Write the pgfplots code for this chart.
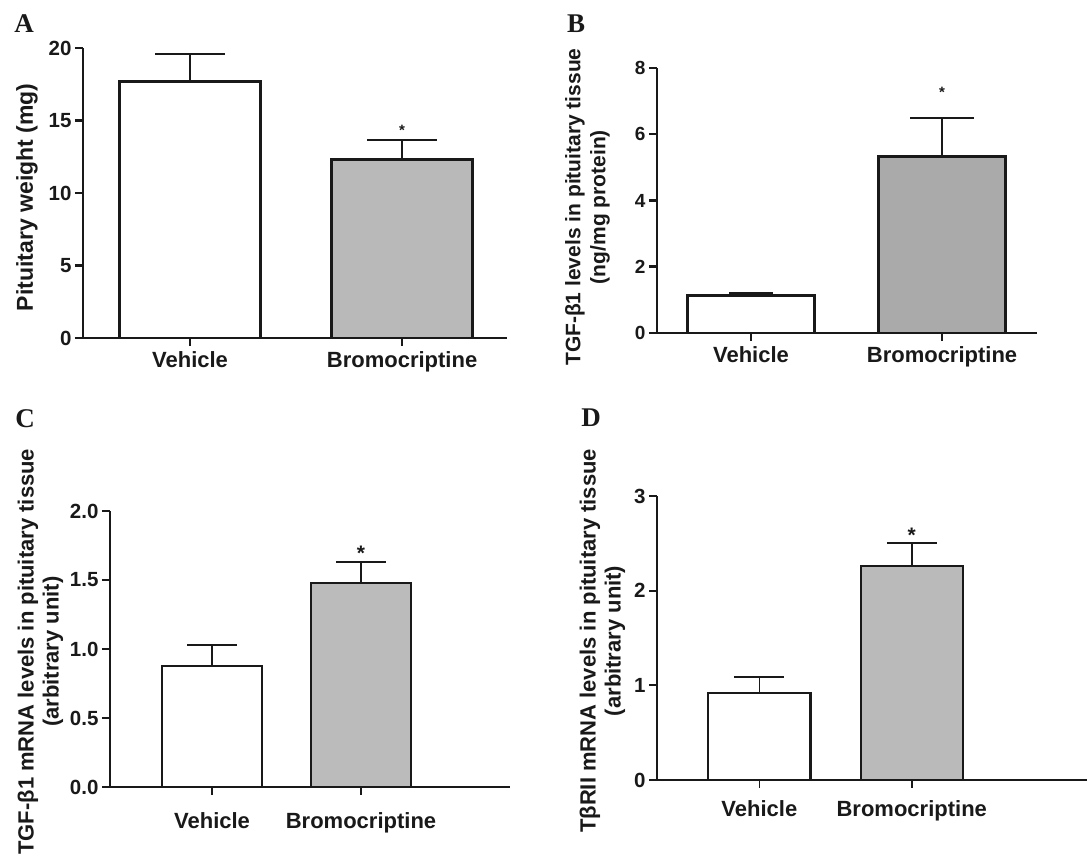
\documentclass[border=0pt]{standalone}
\usepackage{pgfplots}
\pgfplotsset{compat=1.18}
\usepackage{fontspec}
\setmainfont{Liberation Sans}
\newfontfamily\letterfont{Liberation Serif}
\definecolor{barA}{gray}{0.725}
\definecolor{barB}{gray}{0.665}
\definecolor{barC}{gray}{0.735}
\definecolor{barD}{gray}{0.73}
\definecolor{ink}{gray}{0.1}
\begin{document}
\begin{tikzpicture}
\useasboundingbox (0pt,0pt) rectangle (1087pt,859pt);
\pgfplotsset{
  panel/.style={
    scale only axis, anchor=south west, clip=false,
    axis x line=bottom, axis y line=left,
    axis line style={-, ink},
    ymin=0, xtick={1,2}, xticklabels={Vehicle,Bromocriptine},
    tick align=outside, major tick length=8pt,
    tick style={ink},
    x tick label style={font=\fontsize{22}{25}\selectfont\bfseries, text=ink, yshift=-2pt},
    y tick label style={font=\fontsize{20.5}{24}\selectfont\bfseries, text=ink},
    ylabel style={font=\fontsize{22}{25}\selectfont\bfseries, text=ink, align=center, anchor=center, rotate=0},
  },
}
% ---------------- A
\begin{axis}[panel, at={(83pt,521pt)}, width=424pt, height=290pt,
  xmin=0.495, xmax=2.495, ymax=20,
  ytick={0,5,10,15,20}, yticklabels={0,5,10,15,20},
  axis line style={line width=2.7pt}, tick style={line width=2.5pt},
  ylabel={Pituitary weight (mg)},
  ylabel style={font=\fontsize{23}{26}\selectfont\bfseries, at={(axis description cs:-0.132,0.485)}}]
\addplot[ybar, bar shift=0pt, bar width=0.665, fill=white, draw=ink, line width=2.8pt,
  error bars/.cd, y dir=plus, y explicit, error mark=|,
  error bar style={line width=2pt, ink}, error mark options={line width=2pt, mark size=35pt, ink}]
  coordinates {(1,17.7) +- (0,1.9)};
\addplot[ybar, bar shift=0pt, bar width=0.665, fill=barA, draw=ink, line width=2.8pt,
  error bars/.cd, y dir=plus, y explicit, error mark=|,
  error bar style={line width=2pt, ink}, error mark options={line width=2pt, mark size=35pt, ink}]
  coordinates {(2,12.3) +- (0,1.35)};
\node[font=\fontsize{15}{15}\selectfont\bfseries, anchor=base, yshift=-8.5pt, text=ink] at (axis cs:2,14.55) {*};
\end{axis}
% ---------------- B
\begin{axis}[panel, at={(657pt,526pt)}, width=380pt, height=265pt,
  xmin=0.508, xmax=2.497, ymax=8,
  ytick={0,2,4,6,8}, yticklabels={0,2,4,6,8},
  y tick label style={font=\fontsize{19}{22}\selectfont\bfseries},
  axis line style={line width=2.7pt}, tick style={line width=2.5pt},
  ylabel={TGF-β1 levels in pituitary tissue\\(ng/mg protein)},
  ylabel style={font=\fontsize{21}{25}\selectfont\bfseries, at={(axis description cs:-0.183,0.475)}}]
\addplot[ybar, bar shift=0pt, bar width=0.667, fill=white, draw=ink, line width=2.8pt,
  error bars/.cd, y dir=plus, y explicit, error mark=|,
  error bar style={line width=2pt, ink}, error mark options={line width=2pt, mark size=22pt, ink}]
  coordinates {(1,1.12) +- (0,0.09)};
\addplot[ybar, bar shift=0pt, bar width=0.667, fill=barB, draw=ink, line width=2.8pt,
  error bars/.cd, y dir=plus, y explicit, error mark=|,
  error bar style={line width=2pt, ink}, error mark options={line width=2pt, mark size=32pt, ink}]
  coordinates {(2,5.32) +- (0,1.18)};
\node[font=\fontsize{15}{15}\selectfont\bfseries, anchor=base, yshift=-8.5pt, text=ink] at (axis cs:2,7.37) {*};
\end{axis}
% ---------------- C
\begin{axis}[panel, at={(110pt,72pt)}, width=400pt, height=276pt,
  xmin=0.315, xmax=3.0, ymax=2,
  ytick={0,0.5,1,1.5,2}, yticklabels={0.0,0.5,1.0,1.5,2.0},
  x tick label style={yshift=-12pt},
  axis line style={line width=1.8pt}, tick style={line width=1.8pt},
  ylabel={TGF-β1 mRNA levels in pituitary tissue\\(arbitrary unit)},
  ylabel style={at={(axis description cs:-0.174,0.49)}}]
\addplot[ybar, bar shift=0pt, bar width=0.671, fill=white, draw=ink, line width=2.2pt,
  error bars/.cd, y dir=plus, y explicit, error mark=|,
  error bar style={line width=1.8pt, ink}, error mark options={line width=1.8pt, mark size=25pt, ink}]
  coordinates {(1,0.877) +- (0,0.153)};
\addplot[ybar, bar shift=0pt, bar width=0.671, fill=barC, draw=ink, line width=2.2pt,
  error bars/.cd, y dir=plus, y explicit, error mark=|,
  error bar style={line width=1.8pt, ink}, error mark options={line width=1.8pt, mark size=25pt, ink}]
  coordinates {(2,1.48) +- (0,0.15)};
\node[font=\fontsize{21}{21}\selectfont\bfseries, anchor=base, yshift=-12pt, text=ink] at (axis cs:2,1.725) {*};
\end{axis}
% ---------------- D
\begin{axis}[panel, at={(657pt,79pt)}, width=430pt, height=284pt,
  xmin=0.328, xmax=3.15, ymax=3,
  ytick={0,1,2,3}, yticklabels={0,1,2,3},
  x tick label style={yshift=-7pt},
  axis line style={line width=1.8pt}, tick style={line width=1.8pt},
  ylabel={TβRII mRNA levels in pituitary tissue\\(arbitrary unit)},
  ylabel style={at={(axis description cs:-0.127,0.49)}}]
\addplot[ybar, bar shift=0pt, bar width=0.67, fill=white, draw=ink, line width=2.2pt,
  error bars/.cd, y dir=plus, y explicit, error mark=|,
  error bar style={line width=1.8pt, ink}, error mark options={line width=1.8pt, mark size=25pt, ink}]
  coordinates {(1,0.92) +- (0,0.17)};
\addplot[ybar, bar shift=0pt, bar width=0.67, fill=barD, draw=ink, line width=2.2pt,
  error bars/.cd, y dir=plus, y explicit, error mark=|,
  error bar style={line width=1.8pt, ink}, error mark options={line width=1.8pt, mark size=25pt, ink}]
  coordinates {(2,2.26) +- (0,0.24)};
\node[font=\fontsize{21}{21}\selectfont\bfseries, anchor=base, yshift=-12pt, text=ink] at (axis cs:2,2.64) {*};
\end{axis}
% panel letters
\node[font=\fontsize{27}{27}\selectfont\letterfont\bfseries, text=ink] at (24pt,835pt) {A};
\node[font=\fontsize{27}{27}\selectfont\letterfont\bfseries, text=ink] at (576pt,835pt) {B};
\node[font=\fontsize{27}{27}\selectfont\letterfont\bfseries, text=ink] at (25pt,440pt) {C};
\node[font=\fontsize{27}{27}\selectfont\letterfont\bfseries, text=ink] at (591pt,441pt) {D};
\end{tikzpicture}
\end{document}
